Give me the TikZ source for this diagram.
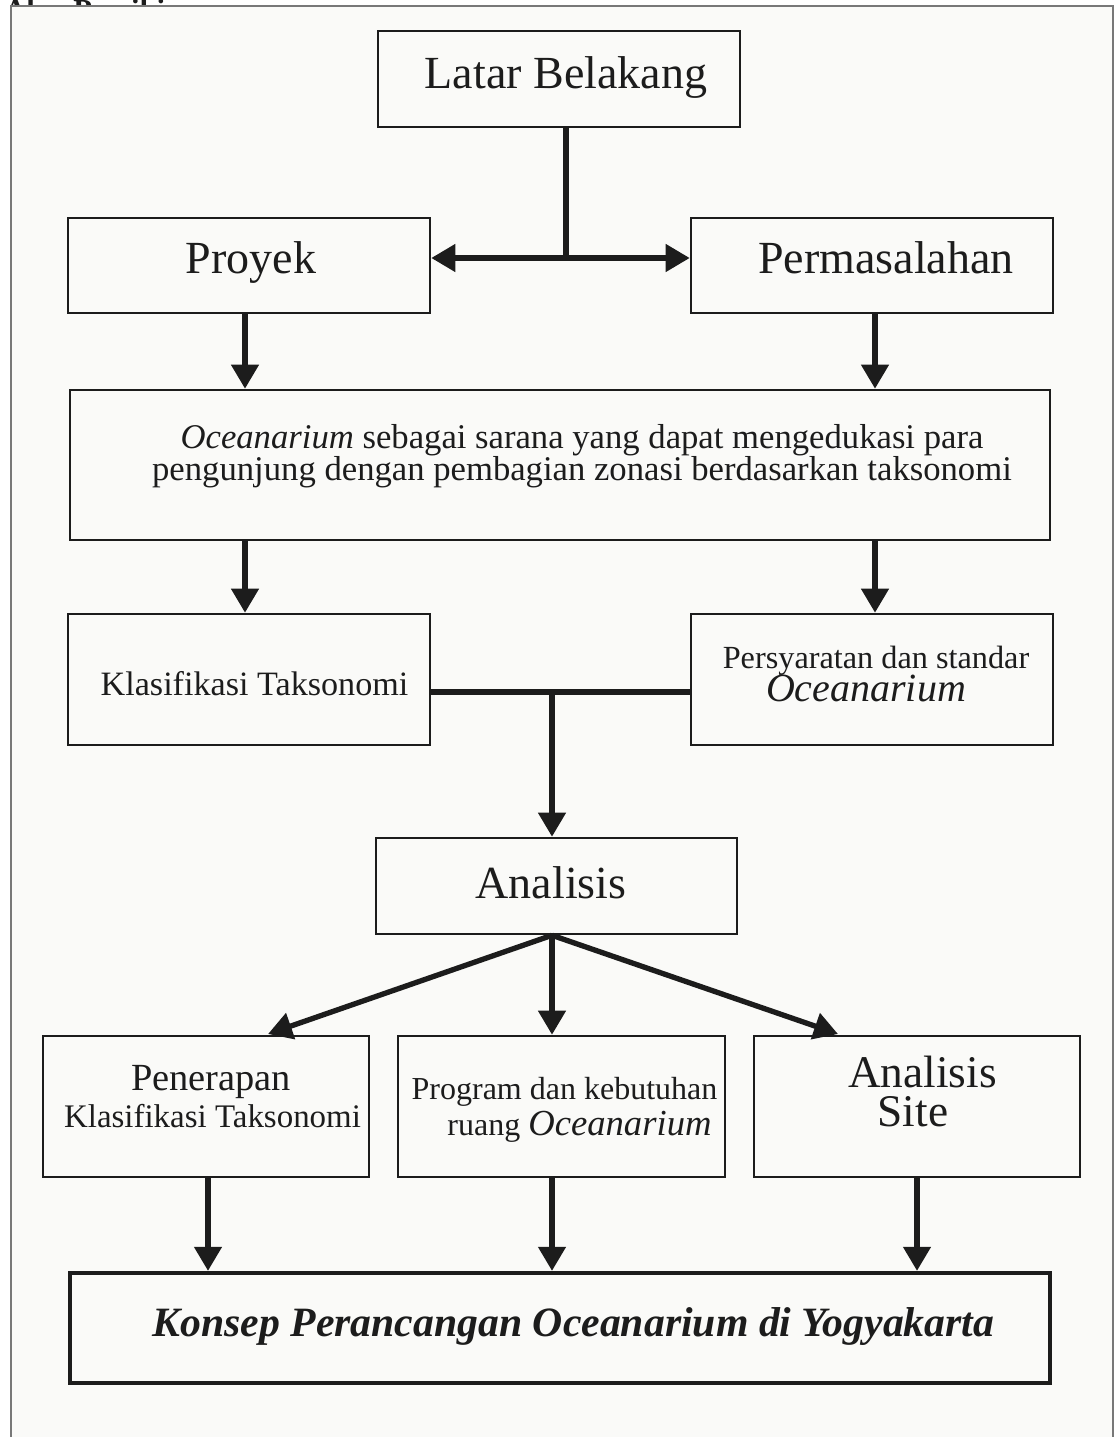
\documentclass[tikz,border=0pt]{standalone}
\usepackage{fontspec}
\setmainfont{Liberation Serif}
\usetikzlibrary{arrows.meta,fit}
\definecolor{bgc}{RGB}{250,250,248}
\definecolor{framec}{RGB}{120,120,120}
\definecolor{ink}{RGB}{28,28,28}
\newcommand{\fs}[1]{\fontsize{#1}{#1}\selectfont}
\begin{document}
\begin{tikzpicture}[x=0.75pt,y=-0.75pt,
  box/.style={draw=ink, line width=1.9pt, inner sep=0pt},
  boldbox/.style={draw=ink, line width=3.2pt, inner sep=0pt},
  conn/.style={draw=ink, line width=4pt},
  arr/.style={conn, -{Triangle[length=18pt,width=20pt]}},
  txt/.style={anchor=base, inner sep=0pt, text=ink}]
% canvas and frame
\fill[white] (0,0) rectangle (1116,1437);
\useasboundingbox (0,0) rectangle (1116,1437);
\begin{scope}
  \clip (0,0) rectangle (1116,6);
  \node[txt, anchor=base west, font=\fs{23}\bfseries] (title) at (4,21) {Alur Pemikiran};
\end{scope}
\fill[bgc] (11,6) rectangle (1113,1437);
\draw[framec, line width=1.1pt] (11,1437) -- (11,6) -- (1113,6) -- (1113,1437);

% boxes
\node[box, fit={(378,31) (740,127)}] (latar) {};
\node[box, fit={(68,218) (430,313)}] (proyek) {};
\node[box, fit={(691,218) (1053,313)}] (perm) {};
\node[box, fit={(70,390) (1050,540)}] (ocean) {};
\node[box, fit={(68,614) (430,745)}] (klas) {};
\node[box, fit={(691,614) (1053,745)}] (pers) {};
\node[box, fit={(376,838) (737,934)}] (anal) {};
\node[box, fit={(43,1036) (369,1177)}] (pener) {};
\node[box, fit={(398,1036) (725,1177)}] (prog) {};
\node[box, fit={(754,1036) (1080,1177)}] (site) {};
\node[boldbox, fit={(70,1273) (1050,1383)}] (konsep) {};

% texts
\node[txt, font=\fs{34.5}] (tLatar) at (566,89) {Latar Belakang};
\node[txt, font=\fs{34.5}] (tProyek) at (251,274) {Proyek};
\node[txt, font=\fs{34.5}] (tPerm) at (886,274) {Permasalahan};
\node[txt, font=\fs{26}] (tOc1) at (582,448) {\textit{Oceanarium} sebagai sarana yang dapat mengedukasi para};
\node[txt, font=\fs{26}] (tOc2) at (582,480) {pengunjung dengan pembagian zonasi berdasarkan taksonomi};
\node[txt, font=\fs{25.6}] (tKlas) at (254.5,695) {Klasifikasi Taksonomi};
\node[txt, font=\fs{24.2}] (tPers1) at (876,668) {Persyaratan dan standar};
\node[txt, font=\fs{30}\itshape] (tPers2) at (866,701) {Oceanarium};
\node[txt, font=\fs{34.5}] (tAnal) at (551,898) {Analisis};
\node[txt, font=\fs{28.8}] (tPen1) at (211,1090) {Penerapan};
\node[txt, font=\fs{24.7}] (tPen2) at (212.5,1127) {Klasifikasi Taksonomi};
\node[txt, font=\fs{24}] (tProg1) at (564.5,1099) {Program dan kebutuhan};
\node[txt, font=\fs{24}] (tProg2) at (579.5,1135) {ruang {\fs{27.5}\itshape Oceanarium}};
\node[txt, font=\fs{34}] (tSite1) at (922.5,1087) {Analisis};
\node[txt, font=\fs{34}] (tSite2) at (913,1126) {Site};
\node[txt, font=\fs{31.3}\bfseries\itshape] (tKonsep) at (573.5,1336) {Konsep Perancangan Oceanarium di Yogyakarta};

% junction coordinates
\coordinate (j1) at (566,258);
\coordinate (cL) at (245,0);
\coordinate (cR) at (875,0);
\coordinate (j3) at (552,692);
\coordinate (j4) at (552,934);
\coordinate (aL) at (268,1034);
\coordinate (aR) at (838,1034);
\coordinate (bL) at (208,0);
\coordinate (bR) at (917,0);

% connectors
\draw[conn] (latar.south -| j1) -- (j1);
\draw[arr] (j1) -- (proyek.east |- j1);
\draw[arr] (j1) -- (perm.west |- j1);
\draw[arr] (proyek.south -| cL) -- (ocean.north -| cL);
\draw[arr] (perm.south -| cR) -- (ocean.north -| cR);
\draw[arr] (ocean.south -| cL) -- (klas.north -| cL);
\draw[arr] (ocean.south -| cR) -- (pers.north -| cR);
\draw[conn] (klas.east |- j3) -- (pers.west |- j3);
\draw[arr] (j3) -- (anal.north -| j3);
\draw[arr] (anal.south -| j4) -- (aL);
\draw[arr] (anal.south -| j4) -- (prog.north -| j4);
\draw[arr] (anal.south -| j4) -- (aR);
\draw[arr] (pener.south -| bL) -- (konsep.north -| bL);
\draw[arr] (prog.south -| j4) -- (konsep.north -| j4);
\draw[arr] (site.south -| bR) -- (konsep.north -| bR);
\end{tikzpicture}
\end{document}
